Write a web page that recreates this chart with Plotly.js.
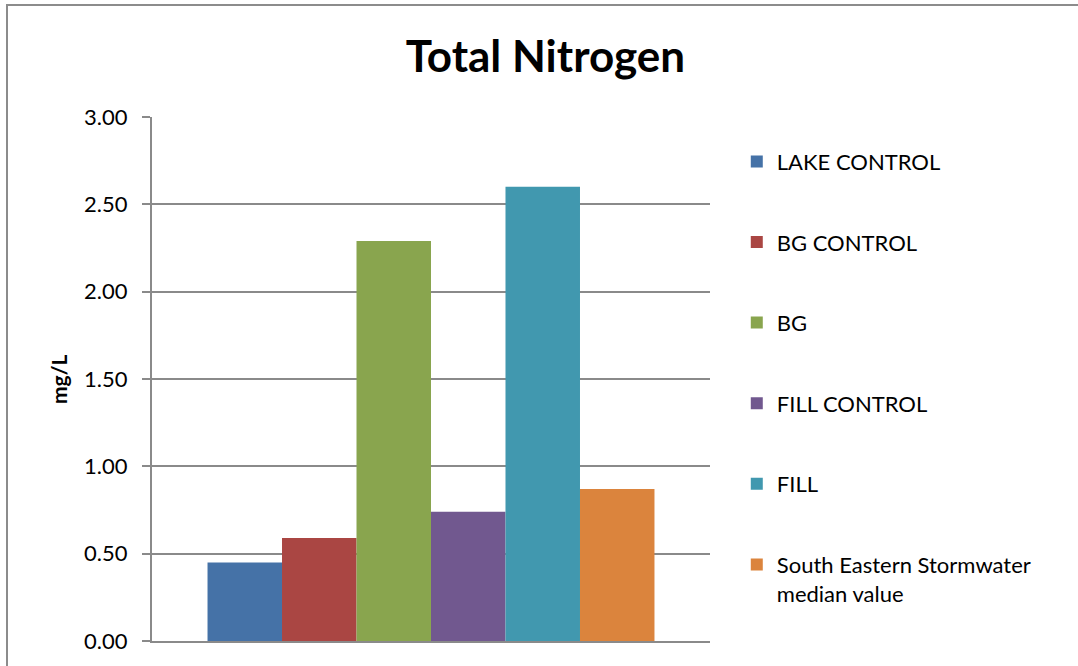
<!DOCTYPE html>
<html>
<head>
<meta charset="utf-8">
<script src="https://cdn.plot.ly/plotly-3.0.1.min.js"></script>
<style>
  html, body { margin: 0; padding: 0; background: #fff; }
  #wrap { position: relative; width: 1078px; height: 666px; overflow: hidden; }
  #chart { width: 1078px; height: 666px; }
  #frame { position: absolute; left: 6px; top: 4px; width: 1100px; height: 700px; border: 2px solid #8c8c8c; pointer-events: none; }
</style>
</head>
<body>
<div id="wrap">
  <div id="chart"></div>
  <div id="frame"></div>
</div>
<script>
const category = [""];
const seriesNames = ["LAKE CONTROL", "BG CONTROL", "BG", "FILL CONTROL", "FILL", "South Eastern Stormwater<br>median value"];
const seriesValues = [0.45, 0.59, 2.29, 0.74, 2.60, 0.87];
const seriesColors = ["#4572A7", "#AA4643", "#89A54E", "#71588F", "#4198AF", "#DB843D"];
const yTicks = [0, 0.5, 1, 1.5, 2, 2.5, 3];
const yTitle = "mg/L";
const chartTitle = "Total Nitrogen";

const FONT = "Lato, 'Open Sans', 'DejaVu Sans', sans-serif";

const traces = seriesNames.map((name, i) => ({
  type: "bar",
  name: name,
  x: category,
  y: [seriesValues[i]],
  marker: { color: seriesColors[i] },
  legendgroup: "g" + i,
  hoverinfo: "name+y"
}));

const layout = {
  width: 1078,
  height: 666,
  paper_bgcolor: "#ffffff",
  plot_bgcolor: "#ffffff",
  font: { family: FONT, color: "#000", size: 22 },
  margin: { l: 152, r: 368, t: 117, b: 25 },
  title: {
    text: "<b>" + chartTitle + "</b>",
    font: { family: FONT, size: 44, color: "#000" },
    x: 0.506, xanchor: "center",
    y: 0.915, yanchor: "middle"
  },
  barmode: "group",
  bargap: 0.199,
  bargroupgap: 0,
  xaxis: {
    showticklabels: false,
    showline: true,
    linecolor: "#8a8a8a",
    linewidth: 2,
    ticks: "",
    showgrid: false,
    zeroline: false,
    fixedrange: true
  },
  yaxis: {
    range: [0, 3],
    tickvals: yTicks,
    tickformat: ".2f",
    showgrid: true,
    gridcolor: "#8a8a8a",
    gridwidth: 2,
    showline: true,
    linecolor: "#8a8a8a",
    linewidth: 2,
    ticks: "outside",
    ticklen: 8,
    tickwidth: 2,
    tickcolor: "#8a8a8a",
    ticklabelstandoff: 10,
    zeroline: false,
    tickfont: { family: FONT, size: 22, color: "#000" },
    automargin: false
  },
  annotations: [{
    text: "<b>" + yTitle + "</b>",
    xref: "paper", yref: "paper",
    x: -0.1685, y: 0.5,
    xanchor: "center", yanchor: "middle",
    textangle: -90,
    showarrow: false,
    font: { family: FONT, size: 21, color: "#000" }
  }],
  legend: {
    x: 1.048, xanchor: "left",
    y: 0.955, yanchor: "top",
    font: { family: FONT, size: 22, color: "#000" },
    tracegroupgap: 49,
    valign: "top",
    itemwidth: 30,
    bgcolor: "rgba(0,0,0,0)"
  },
  showlegend: true
};

Plotly.newPlot("chart", traces, layout, { displayModeBar: false, staticPlot: true });
</script>
</body>
</html>
